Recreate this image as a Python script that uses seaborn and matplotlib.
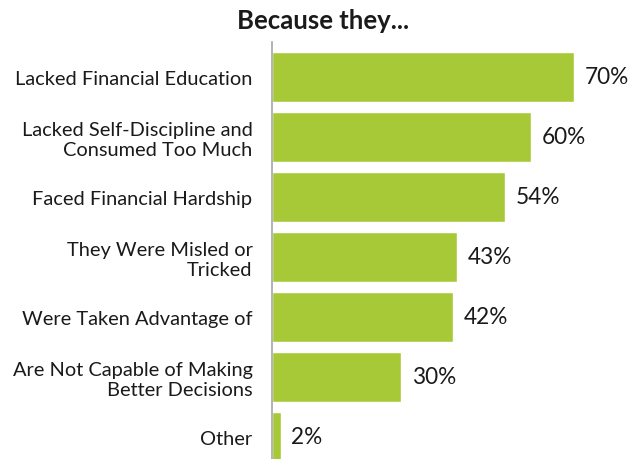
import matplotlib
matplotlib.use("Agg")
import matplotlib.pyplot as plt
import seaborn as sns
import pandas as pd

categories = [
    "Lacked Financial Education",
    "Lacked Self-Discipline and\nConsumed Too Much",
    "Faced Financial Hardship",
    "They Were Misled or\nTricked",
    "Were Taken Advantage of",
    "Are Not Capable of Making\nBetter Decisions",
    "Other",
]
values = [70, 60, 54, 43, 42, 30, 2]
value_labels = ["70%", "60%", "54%", "43%", "42%", "30%", "2%"]

df = pd.DataFrame({"Reason": categories, "Share": values})

sns.set_theme(style="white")
plt.rcParams["font.family"] = ["Lato", "DejaVu Sans"]

fig = plt.figure(figsize=(6.34, 4.6), dpi=100)
ax = fig.add_axes([272 / 634, 0.0, 1 - 272 / 634, (460 - 43) / 460])

sns.barplot(data=df, x="Share", y="Reason", color="#a7c938", width=0.83,
            saturation=1, ax=ax)

for i, (v, lab) in enumerate(zip(values, value_labels)):
    ax.text(v + 2.5, i, lab, va="center", ha="left", fontsize=16.3, color="#1a1a1a")

ax.set_xlim(0, 84)
ax.set_ylim(6.37, -0.583)
ax.set_xlabel("")
ax.set_ylabel("")
ax.set_xticks([])
ax.tick_params(axis="y", length=0, pad=14, labelsize=14.4, labelcolor="#1a1a1a")
for lbl in ax.get_yticklabels():
    lbl.set_horizontalalignment("right")
    lbl.set_multialignment("right")
for s in ["top", "right", "bottom"]:
    ax.spines[s].set_visible(False)
ax.spines["left"].set_color("#a6a6a6")
ax.spines["left"].set_linewidth(1.2)

fig.text(0.51, 0.98, "Because they...", ha="center", va="top",
         fontsize=18.5, fontweight="bold", color="#1a1a1a")

fig.savefig("out.png", dpi=100)
